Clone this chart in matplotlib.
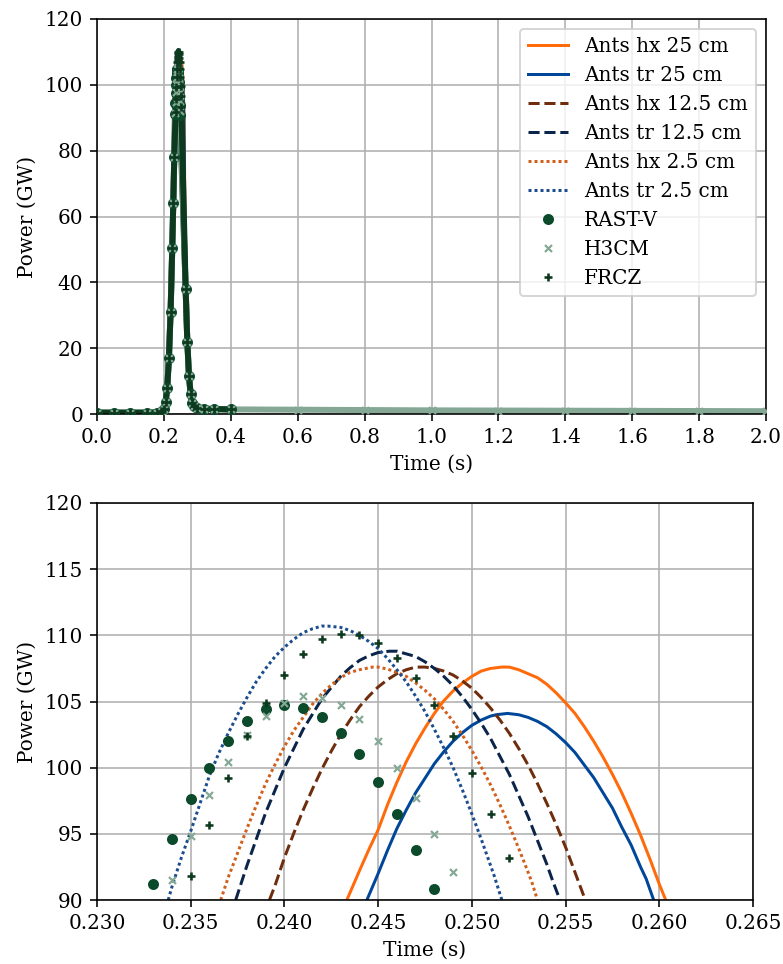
import matplotlib
matplotlib.use("Agg")
import matplotlib.pyplot as plt

plt.rcParams['font.family'] = 'DejaVu Serif'

# ---- values (time in s, power in GW) ----
# zoomed window, model curves
hx_25_t = [0.2433, 0.244, 0.2445, 0.245, 0.2455, 0.246, 0.2465, 0.247, 0.2475, 0.248,
           0.2485, 0.249, 0.2495, 0.250, 0.2505, 0.251, 0.2516, 0.252, 0.2525, 0.253,
           0.2535, 0.254, 0.2545, 0.255, 0.2555, 0.256, 0.2565, 0.257, 0.2575, 0.258,
           0.2585, 0.259, 0.2595, 0.260, 0.2604]
hx_25_p = [89.9, 92.2, 93.8, 95.3, 97.2, 98.9, 100.45, 101.8, 103.0, 104.1,
           105.05, 105.8, 106.4, 106.9, 107.3, 107.5, 107.6, 107.6, 107.4, 107.1,
           106.8, 106.3, 105.65, 104.9, 104.1, 103.1, 102.0, 100.8, 99.5, 98.1,
           96.55, 94.9, 93.1, 91.2, 89.8]
tr_25_t = [0.2444, 0.245, 0.2455, 0.246, 0.2465, 0.247, 0.2475, 0.248, 0.2485, 0.249,
           0.2495, 0.250, 0.2505, 0.251, 0.2513, 0.2519, 0.2525, 0.253, 0.2535, 0.254,
           0.2545, 0.255, 0.2555, 0.256, 0.2565, 0.257, 0.2575, 0.258, 0.2585, 0.259,
           0.2593, 0.2597]
tr_25_p = [90.0, 92.0, 93.75, 95.4, 96.8, 98.1, 99.2, 100.3, 101.2, 102.0,
           102.65, 103.2, 103.6, 103.9, 104.0, 104.1, 104.0, 103.8, 103.5, 103.1,
           102.55, 101.9, 101.15, 100.2, 99.25, 98.1, 96.95, 95.5, 94.15, 92.5,
           91.6, 90.0]
hx_12_t = [0.2392, 0.2395, 0.240, 0.2405, 0.241, 0.2415, 0.242, 0.2425, 0.243, 0.2435,
           0.244, 0.2445, 0.245, 0.2455, 0.246, 0.2465, 0.247, 0.2475, 0.248, 0.2485,
           0.249, 0.2495, 0.250, 0.2505, 0.251, 0.2515, 0.252, 0.2525, 0.253, 0.2535,
           0.254, 0.2545, 0.255, 0.2555, 0.256, 0.2561]
hx_12_p = [90.0, 91.1, 93.2, 95.05, 96.8, 98.4, 99.9, 101.25, 102.5, 103.6,
           104.6, 105.4, 106.1, 106.65, 107.1, 107.4, 107.6, 107.6, 107.5, 107.3,
           107.0, 106.55, 106.0, 105.3, 104.5, 103.6, 102.6, 101.45, 100.2, 98.8,
           97.3, 95.7, 94.0, 92.1, 90.2, 89.8]
tr_12_t = [0.2374, 0.238, 0.2385, 0.239, 0.2395, 0.240, 0.2405, 0.241, 0.2415, 0.242,
           0.2425, 0.243, 0.2435, 0.244, 0.2445, 0.245, 0.2456, 0.246, 0.2465, 0.247,
           0.2475, 0.248, 0.2485, 0.249, 0.2495, 0.250, 0.2505, 0.251, 0.2515, 0.252,
           0.2525, 0.253, 0.2535, 0.254, 0.2543, 0.2547]
tr_12_p = [90.0, 92.6, 94.6, 96.6, 98.3, 100.0, 101.45, 102.9, 104.05, 105.2,
           106.05, 106.9, 107.55, 108.1, 108.45, 108.7, 108.8, 108.8, 108.6, 108.4,
           108.0, 107.5, 106.9, 106.2, 105.35, 104.4, 103.35, 102.2, 100.85, 99.5,
           97.9, 96.3, 94.5, 92.7, 91.5, 90.0]
hx_2_t = [0.2366, 0.237, 0.2375, 0.238, 0.2385, 0.239, 0.2395, 0.240, 0.2405, 0.241,
          0.2415, 0.242, 0.2425, 0.243, 0.2435, 0.244, 0.2447, 0.245, 0.2455, 0.246,
          0.2465, 0.247, 0.2475, 0.248, 0.2485, 0.249, 0.2495, 0.250, 0.2505, 0.251,
          0.2515, 0.252, 0.2525, 0.253, 0.2532, 0.2535]
hx_2_p = [90.0, 91.7, 93.55, 95.4, 97.15, 98.8, 100.25, 101.6, 102.8, 103.8,
          104.8, 105.6, 106.25, 106.8, 107.2, 107.4, 107.6, 107.6, 107.45, 107.2,
          106.9, 106.4, 105.85, 105.2, 104.4, 103.5, 102.45, 101.3, 100.05, 98.7,
          97.2, 95.6, 93.9, 92.1, 91.35, 90.0]
tr_2_t = [0.2338, 0.234, 0.2345, 0.235, 0.2355, 0.236, 0.2365, 0.237, 0.2375, 0.238,
          0.2385, 0.239, 0.2395, 0.240, 0.2405, 0.241, 0.2415, 0.242, 0.2423, 0.243,
          0.2435, 0.244, 0.2445, 0.245, 0.2455, 0.246, 0.2465, 0.247, 0.2475, 0.248,
          0.2485, 0.249, 0.2495, 0.250, 0.2505, 0.251, 0.2512, 0.2516]
tr_2_p = [90.0, 91.0, 93.2, 95.2, 97.3, 99.4, 101.1, 102.6, 104.0, 105.3,
          106.5, 107.5, 108.4, 109.1, 109.7, 110.2, 110.5, 110.7, 110.7, 110.6,
          110.36, 110.0, 109.54, 109.0, 108.25, 107.4, 106.48, 105.4, 104.24, 102.9,
          101.5, 100.0, 98.3, 96.5, 94.6, 92.6, 91.8, 90.0]

# zoomed window, reference codes
rast_t = [0.233, 0.234, 0.235, 0.236, 0.237, 0.238, 0.239, 0.240,
          0.241, 0.242, 0.243, 0.244, 0.245, 0.246, 0.247, 0.248]
rast_p = [91.2, 94.6, 97.6, 100.0, 102.0, 103.5, 104.4, 104.7,
          104.5, 103.8, 102.6, 101.0, 98.9, 96.5, 93.8, 90.8]
h3cm_t = [0.234, 0.235, 0.236, 0.237, 0.238, 0.239, 0.240, 0.241,
          0.242, 0.243, 0.244, 0.245, 0.246, 0.247, 0.248, 0.249]
h3cm_p = [91.5, 94.8, 97.9, 100.4, 102.5, 103.9, 104.9, 105.4,
          105.3, 104.7, 103.7, 102.0, 100.0, 97.7, 95.0, 92.1]
frcz_t = [0.235, 0.236, 0.237, 0.238, 0.239, 0.240, 0.241, 0.242, 0.243,
          0.244, 0.245, 0.246, 0.247, 0.248, 0.249, 0.250, 0.251, 0.252]
frcz_p = [91.8, 95.7, 99.2, 102.4, 104.9, 107.0, 108.6, 109.7, 110.1,
          110.0, 109.4, 108.3, 106.8, 104.7, 102.4, 99.6, 96.5, 93.2]

# full run: rise before the zoom window and decay after it
lead_t = [0.0, 0.05, 0.10, 0.15, 0.18, 0.19, 0.195, 0.20, 0.205, 0.21,
          0.215, 0.22, 0.225, 0.228, 0.231]
lead_p = [0.4, 0.4, 0.4, 0.4, 0.45, 0.55, 0.8, 1.5, 3.5, 8.0,
          17.0, 31.0, 50.5, 64.0, 78.0]
tail_t = [0.265, 0.27, 0.275, 0.28, 0.285, 0.29, 0.30, 0.32, 0.35, 0.40,
          0.60, 0.80, 1.00, 1.20, 1.40, 1.60, 1.80, 2.00]
tail_p = [38.0, 22.0, 11.5, 6.0, 3.4, 2.3, 1.9, 1.6, 1.5, 1.4,
          1.3, 1.2, 1.1, 1.05, 1.0, 0.95, 0.9, 0.85]
dark_end = 0.40   # RAST-V and FRCZ stop here, H3CM runs to the end

dots = (0, (1, 1))
models = [
    ("Ants hx 25 cm", hx_25_t, hx_25_p, "#ff6a0a", "-"),
    ("Ants tr 25 cm", tr_25_t, tr_25_p, "#00479a", "-"),
    ("Ants hx 12.5 cm", hx_12_t, hx_12_p, "#6e2d0c", "--"),
    ("Ants tr 12.5 cm", tr_12_t, tr_12_p, "#0b2449", "--"),
    ("Ants hx 2.5 cm", hx_2_t, hx_2_p, "#d0601c", dots),
    ("Ants tr 2.5 cm", tr_2_t, tr_2_p, "#1c4d8e", dots),
]
codes = [
    ("RAST-V", rast_t, rast_p, "#0b4a2b", "o", 4.5, 1.0),
    ("H3CM", h3cm_t, h3cm_p, "#84a894", "x", 3.5, 1.1),
    ("FRCZ", frcz_t, frcz_p, "#0d3a1e", "+", 4.0, 1.3),
]

fig = plt.figure(figsize=(783/144, 964/144), dpi=144)
ax1 = fig.add_axes([97/783, 1-414/964, 669/783, 395/964])
ax2 = fig.add_axes([97/783, 1-900/964, 656/783, 397/964])

# top: whole shot
for name, t, p, c, ls in models:
    ax1.plot(lead_t + t + tail_t, lead_p + p + tail_p, color=c, ls=ls, lw=1.5, label=name)
for name, t, p, c, m, ms, mew in codes:
    if name == "H3CM":
        tt, pp = lead_t + t + tail_t, lead_p + p + tail_p
    else:
        keep = [i for i, v in enumerate(tail_t) if v <= dark_end]
        tt = lead_t + t + [tail_t[i] for i in keep]
        pp = lead_p + p + [tail_p[i] for i in keep]
    ax1.plot(tt, pp, color=c, lw=3, solid_capstyle='butt', zorder=2.5)
    ax1.plot(tt, pp, color=c, ls='none', marker=m, ms=ms, mew=mew, label=name, zorder=2.6)

ax1.set_xlim(0, 2.0)
ax1.set_ylim(0, 120)
ax1.set_xticks([0.0, 0.2, 0.4, 0.6, 0.8, 1.0, 1.2, 1.4, 1.6, 1.8, 2.0])
ax1.set_yticks([0, 20, 40, 60, 80, 100, 120])
ax1.set_xlabel("Time (s)")
ax1.set_ylabel("Power (GW)")
ax1.grid(True)
ax1.set_axisbelow(True)
ax1.legend(loc="upper right")

# bottom: zoom on the peak
for name, t, p, c, ls in models:
    ax2.plot(t, p, color=c, ls=ls, lw=1.5)
for name, t, p, c, m, ms, mew in codes:
    ax2.plot(t, p, color=c, ls='none', marker=m, ms=ms, mew=mew)

ax2.set_xlim(0.230, 0.265)
ax2.set_ylim(90, 120)
ax2.set_xticks([0.230, 0.235, 0.240, 0.245, 0.250, 0.255, 0.260, 0.265])
ax2.set_xticklabels(["0.230", "0.235", "0.240", "0.245", "0.250", "0.255", "0.260", "0.265"])
ax2.set_yticks([90, 95, 100, 105, 110, 115, 120])
ax2.set_xlabel("Time (s)")
ax2.set_ylabel("Power (GW)")
ax2.grid(True)
ax2.set_axisbelow(True)

fig.savefig("out.png", dpi=144, facecolor="white")
